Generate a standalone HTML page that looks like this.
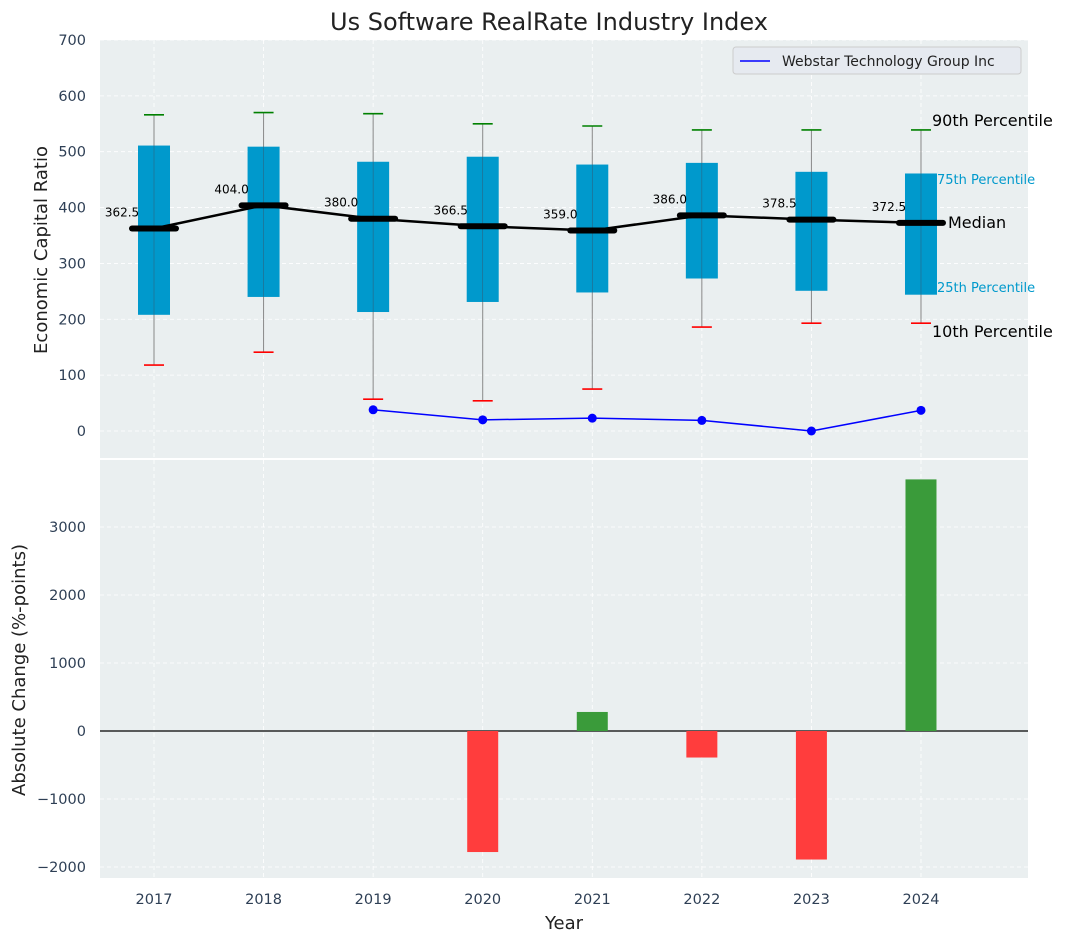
<!DOCTYPE html>
<html><head><meta charset="utf-8"><style>
body{margin:0;background:#fff;font-family:"Liberation Sans","DejaVu Sans",sans-serif}
svg text{font-family:"DejaVu Sans","Liberation Sans",sans-serif}
</style></head><body>
<svg id="c" width="1067" height="942" xmlns="http://www.w3.org/2000/svg"></svg>
<script>
const years=[2017,2018,2019,2020,2021,2022,2023,2024];
const p10=[118,141,57,54,75,186,193,193];
const p25=[208,240,213,231,248,273,251,244];
const med=[362.5,404.0,380.0,366.5,359.0,386.0,378.5,372.5];
const p75=[511,509,482,491,477,480,464,461];
const p90=[566,570,568,550,546,539,539,539];
const compYears=[2019,2020,2021,2022,2023,2024];
const compVals=[38,20,23,19,0,37];
const chgYears=[2020,2021,2022,2023,2024];
const chgVals=[-1780,280,-390,-1890,3700];
const topTicks=[0,100,200,300,400,500,600,700];
const botTicks=[-2000,-1000,0,1000,2000,3000];

const S=document.getElementById('c');const NS='http://www.w3.org/2000/svg';
function el(t,a,txt){const e=document.createElementNS(NS,t);for(const k in a)e.setAttribute(k,a[k]);if(txt!==undefined)e.textContent=txt;S.appendChild(e);return e;}
const X=y=>154+(y-2017)*109.57;
const Y1=v=>431-v*0.5586;
const Y2=v=>731-v*0.068;
const L=100,R=1028;
let e=el('rect',{x:L,y:40,width:R-L,height:418,fill:'#eaeff0'});

e=el('rect',{x:L,y:460,width:R-L,height:418,fill:'#eaeff0'});

years.forEach(y=>{el('line',{x1:X(y),x2:X(y),y1:40,y2:458,stroke:'#fff','stroke-dasharray':'4,3','stroke-width':0.8});el('line',{x1:X(y),x2:X(y),y1:460,y2:878,stroke:'#fff','stroke-dasharray':'4,3','stroke-width':0.8});
 const t=el('text',{x:X(y),y:904,'text-anchor':'middle','font-size':14.5,fill:'#2e3f55'},y);});
topTicks.forEach(v=>{el('line',{x1:L,x2:R,y1:Y1(v),y2:Y1(v),stroke:'#fff','stroke-dasharray':'4,3','stroke-width':0.8});
 const t=el('text',{x:86,y:Y1(v)+5,'text-anchor':'end','font-size':14.5,fill:'#2e3f55'},v);});
botTicks.forEach(v=>{el('line',{x1:L,x2:R,y1:Y2(v),y2:Y2(v),stroke:'#fff','stroke-dasharray':'4,3','stroke-width':0.8});
 const t=el('text',{x:86,y:Y2(v)+5,'text-anchor':'end','font-size':14.5,fill:'#2e3f55'},String(v).replace('-','\u2212'));});
years.forEach((y,i)=>{
 const x=X(y);
 let w=el('line',{x1:x,x2:x,y1:Y1(p10[i]),y2:Y1(p90[i]),stroke:'#888','stroke-width':1});
 let b=el('rect',{x:x-16,y:Y1(p75[i]),width:32,height:Y1(p25[i])-Y1(p75[i]),fill:'#0099cc'});
 el('line',{x1:x,x2:x,y1:Y1(p75[i]),y2:Y1(p25[i]),stroke:'#445','stroke-width':0.6,opacity:0.6});
 let c=el('line',{x1:x-10,x2:x+10,y1:Y1(p90[i]),y2:Y1(p90[i]),stroke:'green','stroke-width':1.6});
 c=el('line',{x1:x-10,x2:x+10,y1:Y1(p10[i]),y2:Y1(p10[i]),stroke:'red','stroke-width':1.6});
});
let pl=el('polyline',{points:years.map((y,i)=>X(y)+','+Y1(med[i])).join(' '),fill:'none',stroke:'#000','stroke-width':2.5});

years.forEach((y,i)=>{const x=X(y);
 let m=el('line',{x1:x-22,x2:x+22,y1:Y1(med[i]),y2:Y1(med[i]),stroke:'#000','stroke-width':6,'stroke-linecap':'round'});
 let t=el('text',{x:x-32,y:Y1(med[i])-12,'text-anchor':'middle','font-size':12,fill:'#000'},med[i].toFixed(1));});
let cl=el('polyline',{points:compYears.map((y,i)=>X(y)+','+Y1(compVals[i])).join(' '),fill:'none',stroke:'blue','stroke-width':1.5});

compYears.forEach((y,i)=>{let c=el('circle',{cx:X(y),cy:Y1(compVals[i]),r:4.5,fill:'blue'});});
[['90th Percentile',932,126,16,'#000'],['75th Percentile',937,184,13,'#0099cc'],['Median',948,228,16,'#000'],['25th Percentile',937,292,13,'#0099cc'],['10th Percentile',932,337,16,'#000']].forEach(a=>{
 let t=el('text',{x:a[1],y:a[2],'font-size':a[3],fill:a[4]},a[0]);});
let lg=el('rect',{x:733,y:47,width:288,height:27,fill:'#e6eaf0',stroke:'#ccc',rx:3});
el('line',{x1:740,x2:770,y1:61,y2:61,stroke:'blue','stroke-width':1.5});
let lt=el('text',{x:782,y:66,'font-size':14,fill:'#222'},'Webstar Technology Group Inc');
el('line',{x1:L,x2:R,y1:Y2(0),y2:Y2(0),stroke:'#000','stroke-width':1.2});
chgYears.forEach((y,i)=>{const v=chgVals[i];const y0=Y2(Math.max(v,0)),h=Math.abs(Y2(v)-Y2(0));
 let b=el('rect',{x:X(y)-15.5,y:y0,width:31,height:h,fill:v>=0?'#3a9b3a':'#ff3d3d'});});
let t=el('text',{x:549,y:30,'text-anchor':'middle','font-size':24,fill:'#222'},'Us Software RealRate Industry Index');
t=el('text',{x:564,y:929,'text-anchor':'middle','font-size':18,fill:'#222'},'Year');
t=el('text',{x:0,y:0,'text-anchor':'middle','font-size':18,fill:'#222',transform:'translate(47,250) rotate(-90)'},'Economic Capital Ratio');
t=el('text',{x:0,y:0,'text-anchor':'middle','font-size':18,fill:'#222',transform:'translate(25,670) rotate(-90)'},'Absolute Change (%-points)');
</script>
</body></html>
